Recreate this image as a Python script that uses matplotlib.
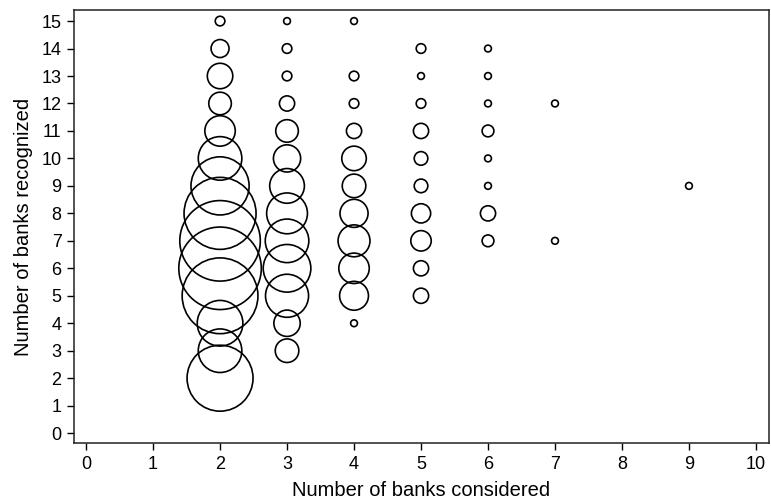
import matplotlib
matplotlib.use("Agg")
import matplotlib.pyplot as plt

plt.rcParams['font.family'] = ['Liberation Sans', 'DejaVu Sans']

# Number of banks considered (x), recognized (y), and frequency (bubble weight)
considered = [2]*14 + [3]*13 + [4]*11 + [5]*10 + [6]*8 + [7, 7] + [9]
recognized = (list(range(2, 16)) + list(range(3, 16)) +
              [4, 5, 6, 7, 8, 9, 10, 11, 12, 13, 15] +
              list(range(5, 15)) + list(range(7, 15)) + [7, 12] + [9])
frequency = ([94, 41, 45, 124, 147, 140, 112, 73, 41, 20, 11, 14, 7, 2] +
             [12, 15, 40, 49, 41, 36, 26, 16, 11, 5, 2, 2, 1] +
             [1, 18, 20, 22, 17, 12, 13, 5, 2, 2, 1] +
             [5, 5, 9, 8, 4, 4, 5, 2, 1, 2] +
             [3, 5, 1, 1, 3, 1, 1, 1] +
             [1, 1] + [1])

fig = plt.figure(figsize=(7.71, 5.04), dpi=100)
ax = fig.add_axes([0.096, 0.121, 0.901, 0.859])

ax.scatter(considered, recognized, s=[24 * f for f in frequency],
           facecolors='none', edgecolors='black', linewidths=1.2)

ax.set_xlim(-0.18, 10.19)
ax.set_ylim(-0.36, 15.4)
ax.set_xticks(range(0, 11))
ax.set_yticks(range(0, 16))
ax.tick_params(direction='out', length=5, width=1, labelsize=13, pad=4)
for sp in ax.spines.values():
    sp.set_linewidth(1.1)
    sp.set_color('#222222')
ax.set_xlabel('Number of banks considered', fontsize=14.5, labelpad=6)
ax.set_ylabel('Number of banks recognized', fontsize=14.5, labelpad=6)

fig.savefig('out.png', dpi=100)
